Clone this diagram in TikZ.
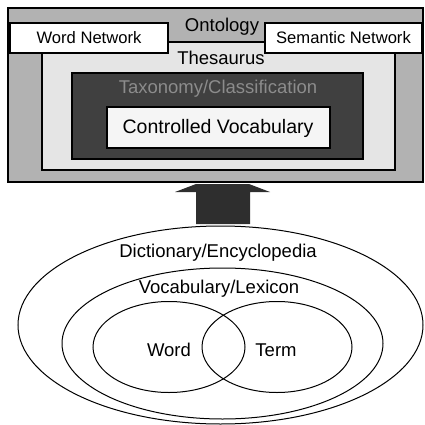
\documentclass[tikz,border=0pt]{standalone}
\usepackage{fontspec}
\setmainfont{Liberation Sans}
\usetikzlibrary{shapes.geometric}
\begin{document}
\begin{tikzpicture}[x=1pt,y=-1pt,
  box/.style={draw=black,line width=1.2pt,rectangle,inner sep=0pt},
  big/.style={font=\fontsize{18.5}{21}\selectfont},
  small/.style={font=\fontsize{16.6}{19}\selectfont},
  ring/.style={draw=black,line width=1pt,ellipse,inner sep=0pt}]
\useasboundingbox (0,0) rectangle (424,425);
% boxes
\node[box,fill=black!30,minimum width=415pt,minimum height=174pt] (ont) at (215.5,95) {};
\node[box,fill=black!10,minimum width=353pt,minimum height=128pt] (thes) at (218.5,106) {};
\node[box,fill=black!75,minimum width=291pt,minimum height=86pt] (tax) at (217.5,116) {};
\node[box,fill=black!4,minimum width=223pt,minimum height=41pt] (cv) at (218.5,127.5) {};
\node[box,fill=white,minimum width=158pt,minimum height=30pt] (wn) at (89,38) {};
\node[box,fill=white,minimum width=157pt,minimum height=30pt] (sn) at (343.5,38) {};
% labels
\node[big] (ontl) at (222,27) {Ontology};
\node[big] (thesl) at (221,58) {Thesaurus};
\node[big,text=black!45] (taxl) at (218,89) {Taxonomy/Classification};
\node[font=\fontsize{19.5}{22}\selectfont] (cvl) at (218,128) {Controlled Vocabulary};
\node[small] (wnl) at (wn) {Word Network};
\node[small] (snl) at (sn) {Semantic Network};
% arrow
\fill[black!82] (175,192) -- (196,184) -- (249,184) -- (270,192) -- (250,192) -- (250,224) -- (196,224) -- (196,192) -- cycle;
% ellipses
\node[ring,minimum width=405pt,minimum height=198pt] (dict) at (220.5,325) {};
\node[ring,minimum width=321pt,minimum height=151pt] (voc) at (222.5,343.5) {};
\node[ring,minimum width=152pt,minimum height=91pt] (word) at (169,347) {};
\node[ring,minimum width=150pt,minimum height=91pt] (term) at (277,347) {};
\node[big] (dictl) at (218,253) {Dictionary/Encyclopedia};
\node[big] (vocl) at (219,289) {Vocabulary/Lexicon};
\node[big] (wordl) at (169,350) {Word};
\node[big] (terml) at (276,350) {Term};
\end{tikzpicture}
\end{document}
